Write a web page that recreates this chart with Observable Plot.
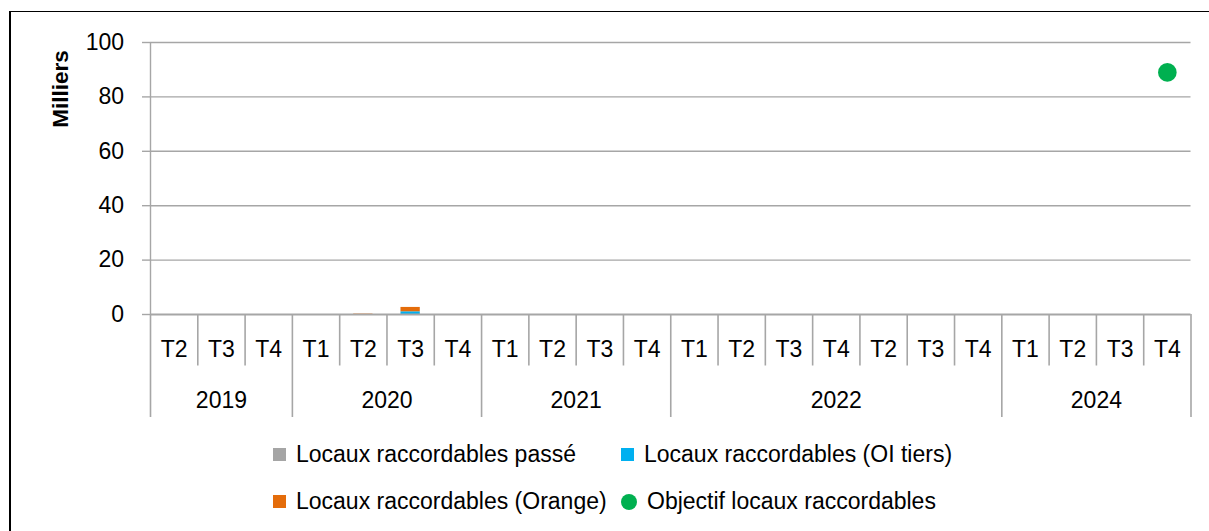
<!DOCTYPE html>
<html><head><meta charset="utf-8">
<script src="https://cdn.jsdelivr.net/npm/d3@7"></script>
<script src="https://cdn.jsdelivr.net/npm/@observablehq/plot@0.6"></script>
<style>
body{margin:0;background:#fff;font-family:"Liberation Sans",Arial,sans-serif;color:#000}
#wrap{position:relative;width:1209px;height:531px;overflow:hidden;background:#fff}
#border{position:absolute;left:9px;top:11px;width:1400px;height:800px;border-left:2px solid #000;border-top:1.6px solid #000}
#main,#cat{position:absolute;left:0}
#main{top:0}
#cat{top:314px}
#ylabel{position:absolute;left:61px;top:89px;transform:translate(-50%,-50%) rotate(-90deg);font-weight:bold;font-size:22.5px;white-space:nowrap}
#legend{position:absolute;left:273px;top:431px;display:grid;grid-template-columns:348px auto;grid-auto-rows:47px;font-size:23px}
.item{display:flex;align-items:center}
.mk{display:inline-block;margin-right:10px}
</style>
</head><body>
<div id="wrap">
  <div id="border"></div>
  <div id="main"></div>
  <div id="cat"></div>
  <div id="ylabel">Milliers</div>
  <div id="legend"></div>
</div>
<script>
// ---- data ----
const years    = ["2019","2019","2019","2020","2020","2020","2020","2021","2021","2021","2021","2022","2022","2022","2022","2022","2022","2022","2024","2024","2024","2024"];
const quarters = ["T2","T3","T4","T1","T2","T3","T4","T1","T2","T3","T4","T1","T2","T3","T4","T2","T3","T4","T1","T2","T3","T4"];
const seriesNames = ["Locaux raccordables passé","Locaux raccordables (OI tiers)","Locaux raccordables (Orange)"];
const objectifName = "Objectif locaux raccordables";
const passe    = [0,0,0,0,0,0,0,0,0,0,0,0,0,0,0,0,0,0,0,0,0,0];
const oiTiers  = [0,0,0,0,0,1.0,0,0,0,0,0,0,0,0,0,0,0,0,0,0,0,0];
const orange   = [0,0,0,0,0.15,1.6,0,0,0,0,0,0,0,0,0,0,0,0,0,0,0,0];
const objectif = [null,null,null,null,null,null,null,null,null,null,null,null,null,null,null,null,null,null,null,null,null,89];
const yTicks = [0,20,40,60,80,100];
const colors = ["#a5a5a5","#00b0f0","#e46c0a"];
const objColor = "#00b050";

// ---- derived tables ----
const keys = years.map((y,i)=>`${y} ${quarters[i]} #${i}`);
const seriesValues = [passe, oiTiers, orange];
const stacked = [];
seriesValues.forEach((arr,s)=>arr.forEach((v,i)=>{ if (v>0) stacked.push({key:keys[i], series:seriesNames[s], value:v}); }));
const points = objectif.map((v,i)=>({key:keys[i], value:v})).filter(d=>d.value!=null);

const W = 1209, mL = 150, mR = 18.5;
const bw = (W - mL - mR) / keys.length;
const gray = "#a6a6a6";
const font = "Liberation Sans, Arial, sans-serif";
const xScale = {type:"band", domain:keys, padding:0, round:false, axis:null};

const main = Plot.plot({
  width: W, height: 318, marginLeft: mL, marginRight: mR, marginTop: 42, marginBottom: 4,
  style: {fontFamily: font, fontSize: "23px", color: "#000", background: "transparent", overflow: "visible"},
  x: xScale,
  y: {domain:[0,100], axis:null},
  color: {domain: seriesNames, range: colors},
  marks: [
    Plot.ruleY(yTicks.filter(t=>t>0), {stroke: gray, strokeWidth: 1.4}),
    Plot.axisY({ticks: yTicks, tickSize: 8, tickPadding: 18.5, fontSize: 23, stroke: gray, fill: "#000", strokeWidth: 1.4, label: null, tickFormat: d=>String(d)}),
    Plot.ruleX([keys[0]], {dx: -bw/2, y1: 0, y2: 100, stroke: gray, strokeWidth: 1.4}),
    Plot.barY(stacked, {x:"key", y:"value", fill:"series", order: seriesNames, insetLeft: 14, insetRight: 14}),
    Plot.ruleY([0], {stroke: gray, strokeWidth: 1.8}),
    Plot.dot(points, {x:"key", y:"value", r: 9.3, fill: objColor, stroke: "none"})
  ]
});
document.getElementById("main").append(main);

// ---- two-level category axis ----
const seps = keys.map((k,i)=>({key:k, level: (i===0 || years[i]!==years[i-1]) ? 2 : 1}));
const groups = [];
years.forEach((y,i)=>{ if (i===0 || y!==years[i-1]) groups.push({year:y, start:i, n:1}); else groups[groups.length-1].n++; });
const yearLabels = groups.map(g=>{ const mid = g.start + (g.n-1)/2; return {key: keys[Math.floor(mid)], year: g.year, half: mid % 1 !== 0}; });
const qLabels = keys.map((k,i)=>({key:k, q:quarters[i]}));

const cat = Plot.plot({
  width: W, height: 106, marginLeft: mL, marginRight: mR, marginTop: 0, marginBottom: 3,
  style: {fontFamily: font, fontSize: "23px", color: "#000", background: "transparent", overflow: "visible"},
  x: xScale,
  y: {domain:[0,2], reverse:true, axis:null},
  marks: [
    Plot.ruleX(seps, {x:"key", dx: -bw/2, y1: 0, y2: "level", stroke: gray, strokeWidth: 1.6}),
    Plot.ruleX([keys[keys.length-1]], {dx: bw/2, y1: 0, y2: 2, stroke: gray, strokeWidth: 1.6}),
    Plot.text(qLabels, {x:"key", y: 0.5, dy: 9, text:"q", fontSize: 23, fill:"#000"}),
    Plot.text(yearLabels.filter(d=>!d.half), {x:"key", y: 1.5, dy: 9, text:"year", fontSize: 23, fill:"#000"}),
    Plot.text(yearLabels.filter(d=>d.half), {x:"key", y: 1.5, dy: 9, dx: bw/2, text:"year", fontSize: 23, fill:"#000"})
  ]
});
document.getElementById("cat").append(cat);

// ---- legend ----
const legend = document.getElementById("legend");
const legendItems = [
  {label: seriesNames[0], color: colors[0], shape: "square"},
  {label: seriesNames[1], color: colors[1], shape: "square"},
  {label: seriesNames[2], color: colors[2], shape: "square"},
  {label: objectifName, color: objColor, shape: "circle"}
];
legendItems.forEach(it=>{
  const d = document.createElement("div"); d.className = "item";
  const m = document.createElement("span"); m.className = "mk";
  const s = it.shape === "circle" ? 16 : 13;
  m.style.width = s + "px"; m.style.height = s + "px"; m.style.background = it.color;
  if (it.shape === "circle") m.style.borderRadius = "50%";
  const t = document.createElement("span"); t.textContent = it.label;
  d.append(m, t); legend.append(d);
});
</script>
</body></html>
